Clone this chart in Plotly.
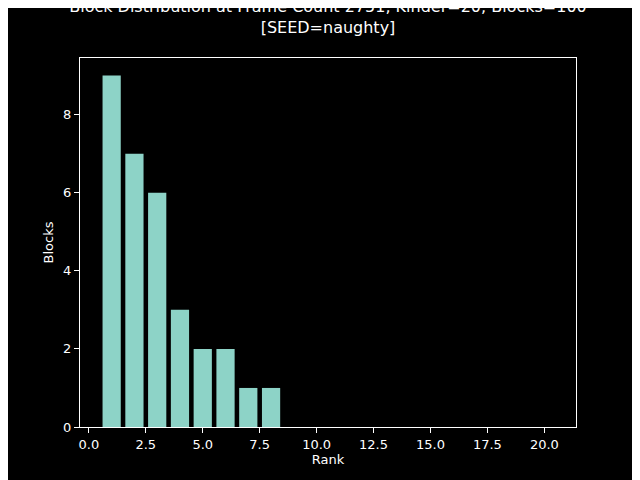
import plotly.graph_objects as go

ranks = list(range(1, 21))
blocks = [9, 7, 6, 3, 2, 2, 1, 1, 0, 0, 0, 0, 0, 0, 0, 0, 0, 0, 0, 0]
x_ticks = [0, 2.5, 5, 7.5, 10, 12.5, 15, 17.5, 20]
x_labels = ["0.0", "2.5", "5.0", "7.5", "10.0", "12.5", "15.0", "17.5", "20.0"]

fig = go.Figure(go.Bar(x=ranks, y=blocks, width=0.8, marker_color="#8dd3c7",
                       marker_line_width=0))

axis_style = dict(showgrid=False, zeroline=False, showline=True, linecolor="white",
                  linewidth=1, mirror=True, ticks="outside", ticklen=5, tickcolor="white",
                  tickfont=dict(size=13, color="white"))

# page shows an 8px body margin, so figure is a bit smaller and shifted
fig.update_layout(
    width=632, height=472,
    paper_bgcolor="black", plot_bgcolor="black",
    font=dict(family="DejaVu Sans", color="white", size=13),
    title=dict(text="Block Distribution at Frame Count 2751, Kinder=20, Blocks=100<br>[SEED=naughty]",
               x=0.5 + 4 / 632, xanchor="center", y=1 - 4 / 472, yanchor="top", font=dict(size=16)),
    margin=dict(l=72, r=64, t=50, b=53),
    xaxis=dict(range=[-0.39, 21.39], tickvals=x_ticks, ticktext=x_labels,
               title=dict(text="Rank", standoff=4, font=dict(size=13)), **axis_style),
    yaxis=dict(range=[0, 9.45], tickvals=[0, 2, 4, 6, 8],
               title=dict(text="Blocks", standoff=6, font=dict(size=13)), **axis_style),
    showlegend=False,
)

fig.write_html("out.html")
